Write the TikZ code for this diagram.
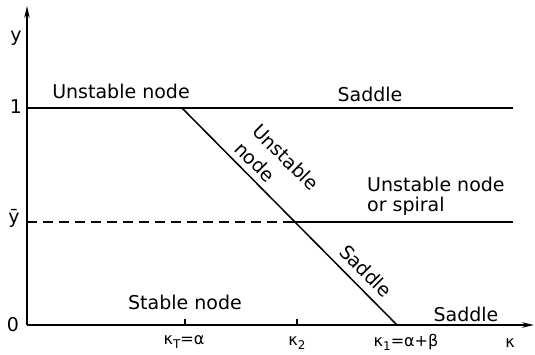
\documentclass[tikz,border=0pt]{standalone}
\usepackage{fontspec}
\setmainfont{DejaVu Sans}
\usetikzlibrary{arrows.meta}
\begin{document}
\begin{tikzpicture}[x=1pt,y=-1pt,
  lab/.style={font=\fontsize{19}{25}\selectfont, inner sep=0pt},
  ticklab/.style={font=\fontsize{16}{19}\selectfont, inner sep=0pt},
  ln/.style={line width=1.5pt},
  axis/.style={line width=1.4pt, -{Stealth[length=12pt,width=5.5pt]}}]
\useasboundingbox (0,0) rectangle (535,355);
% axis points
\coordinate (O) at (27,325);
\coordinate (ytop) at (27,6);
\coordinate (xend) at (534,325);
\coordinate (y1l) at (27,108);
\coordinate (y1r) at (513,108);
\coordinate (ybl) at (27,222);
\coordinate (ybr) at (513,222);
\coordinate (dtop) at (182,108);
\coordinate (dbot) at (397,325);
\coordinate (dmid) at (292,222);
\coordinate (tT) at (185,325);
\coordinate (tTu) at (185,319);
\coordinate (t2) at (297,325);
\coordinate (t2u) at (297,319);
% axes
\draw[axis] (O) -- (ytop);
\draw[axis] (O) -- (xend);
% lines
\draw[ln] (y1l) -- (y1r);
\draw[ln] (dtop) -- (dbot);
\draw[line width=1.1pt, dash pattern=on 10pt off 6pt] (ybl) -- (dmid);
\draw[ln] (dmid) -- (ybr);
\draw[line width=1.1pt] (tT) -- (tTu);
\draw[line width=1.1pt] (t2) -- (t2u);
% axis labels
\node[lab] (ylab) at (16,38) {y};
\node[lab] (one) at (16,107) {1};
\node[lab] (ybar) at (14,218) {ȳ};
\node[lab] (zero) at (13,325) {0};
\node[ticklab] (kT) at (184,342) {κ\raisebox{-0.45ex}{\fontsize{12}{14}\selectfont T}=α};
\node[ticklab] (k2) at (297,343) {κ\raisebox{-0.45ex}{\fontsize{12}{14}\selectfont 2}};
\node[ticklab] (k1) at (406,342) {κ\raisebox{-0.45ex}{\fontsize{12}{14}\selectfont 1}=α+β};
\node[ticklab] (k) at (510,343) {κ};
% region labels
\node[lab] (un1) at (121,91) {Unstable node};
\node[lab] (sad1) at (370,94) {Saddle};
\node[lab, anchor=west] (uns) at (367,184) {Unstable node};
\node[lab, anchor=west] (osp) at (367,206) {or spiral};
\node[lab, rotate=-45, align=left] (dun) at (277,166) {Unstable\\node};
\node[lab, rotate=-45] (dsa) at (366,271) {Saddle};
\node[lab] (stn) at (185,302) {Stable node};
\node[lab] (sad2) at (466,314) {Saddle};
\end{tikzpicture}
\end{document}
